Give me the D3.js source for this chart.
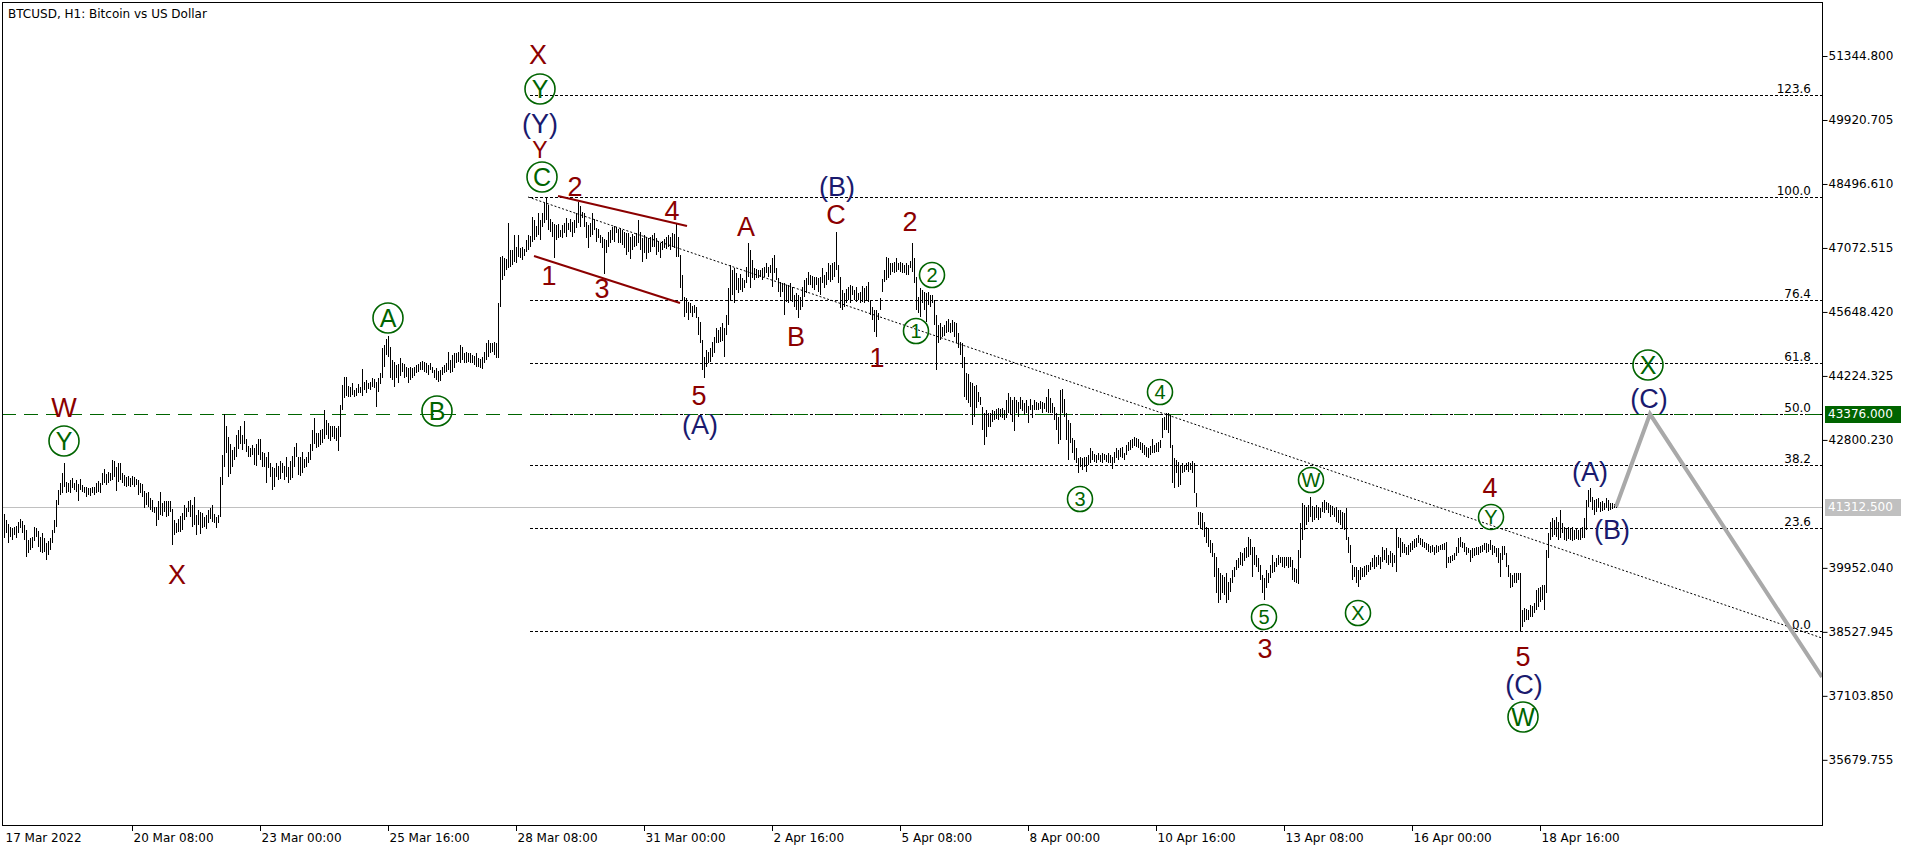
<!DOCTYPE html>
<html><head><meta charset="utf-8">
<script src="https://cdn.jsdelivr.net/npm/d3@7/dist/d3.min.js"></script>
<style>
html,body{margin:0;padding:0;background:#fff;overflow:hidden;}
svg{display:block;}
.ax text{font-family:"DejaVu Sans",sans-serif;font-size:12px;fill:#000;}
.ax line{stroke:#000;}
</style></head><body>
<svg id="chart" width="1916" height="852"></svg>
<script>
// ---------------- DATA ----------------
const title = "BTCUSD, H1:  Bitcoin vs US Dollar";
const startTime = new Date(2022, 2, 17, 16, 0); // first hourly bar
const highs = [
41140,41020,40930,40870,40850,40870,40880,40980,41030,41000,
40910,40800,40570,40610,40650,40870,40830,40780,40650,40720,
40610,40500,40540,40610,40800,41020,41460,41690,41830,42060,
42290,41870,41850,41910,41950,41830,41910,41820,41920,41800,
41760,41760,41720,41720,41760,41760,41830,41890,41830,42070,
42150,42040,42090,42070,42350,42320,42200,42280,42290,42060,
42020,41980,42000,41950,42000,41980,41920,41910,41830,41820,
41670,41610,41650,41500,41460,41310,41310,41430,41650,41400,
41430,41430,41450,41430,41260,41020,40940,41030,41110,41170,
41350,41280,41430,41460,41350,41520,41130,41240,41200,41170,
41090,41130,41240,41280,41350,41150,41090,41130,41980,42460,
43376,43100,42860,42720,42580,42650,42910,43020,43100,42910,
43220,42810,42670,42610,42690,42610,42710,42830,42830,42520,
42500,42430,42520,42290,42200,42170,42280,42220,42320,42280,
42220,42430,42190,42320,42440,42650,42740,42430,42430,42540,
42370,42430,42540,42720,43010,43280,42950,42960,43020,43040,
43470,43240,43170,43100,43110,43100,43060,43100,43580,44020,
44210,44190,44000,43985,44060,43910,43950,44045,43985,44370,
44100,44130,44060,44100,44170,44150,44100,44170,44300,44840,
44910,45040,45110,44875,44580,44540,44470,44500,44620,44520,
44500,44430,44390,44430,44390,44430,44470,44500,
44540,44560,44540,44505,44470,44505,44430,44360,44395,44340,
44360,44430,44470,44505,44765,44580,44690,44730,44740,44765,
44910,44875,44740,44765,44730,44740,44690,44670,44730,44615,
44595,44650,44765,44950,45025,44965,44950,44985,44950,45840,
46865,46895,46840,46820,47620,47025,47025,47360,47100,47360,
47065,47085,47040,47250,47360,47340,47755,47695,47560,47845,
47695,47845,48080,48200,48030,47710,47655,47605,47585,47605,
47470,47585,47635,47730,47635,47710,47655,47695,47855,48100,
48005,47880,47845,47655,47585,47620,47845,47710,47510,47490,
47360,47325,47265,47250,47435,47470,47545,47560,47530,47490,
47510,47470,47435,47410,47395,47325,47385,47340,47395,47695,
47435,47285,47360,47325,47285,47325,47360,47395,47285,47235,
47190,47235,47265,47325,47360,47325,47395,47385,47620,47325,
46915,46470,45990,45950,45875,45840,45780,45800,45765,45545,
45430,45025,44650,44800,44765,44840,44985,45100,45285,45245,
45320,45395,45285,45580,46175,46690,46580,46620,46505,46395,
46490,46395,46360,46655,47175,47025,46805,46620,46595,46580,
46580,46620,46655,46730,46640,46690,46840,46915,46620,46395,
46320,46285,46285,46250,46250,46285,46210,46025,46060,46025,
45990,46210,46360,46395,46545,46470,46450,46430,46430,46395,46430,46620,
46470,46545,46730,46693,46745,46767,47435,46693,46434,46137,
46063,46152,46196,46248,46226,46137,46196,46063,46100,46226,
46174,46226,46322,45914,45766,45692,45692,45617,45951,46374,
46582,46879,46842,46730,46730,46767,46842,46730,46767,46745,
46693,46730,46693,46790,47176,46842,46434,45988,46174,46137,
46100,46063,46100,46026,46026,45914,45580,45358,45395,45321,
45358,45454,45484,45410,45469,45432,45410,45172,44987,44950,
44653,44282,44267,44097,44060,44000,44023,43874,43763,43541,
43392,43466,43392,43392,43466,43451,43481,43503,43481,43503,
43466,43689,43852,43763,43689,43763,43689,43652,43748,43689,
43615,43689,43555,43704,43578,43689,43652,43630,43674,43652,
43615,43748,43926,43726,43615,43541,43392,43318,43911,43926,
43704,43392,43243,43169,42835,42798,42613,42390,42427,42390,
42427,42427,42464,42613,42561,42487,42464,42501,42464,42501,
42487,42464,42501,42464,42427,42538,42613,42576,42613,42650,
42501,42687,42761,42798,42813,42858,42835,42813,42761,42724,
42687,42650,42613,42665,42813,42687,42739,42761,42798,43281,
43318,43392,43392,43355,42687,42390,42353,42316,42242,42279,
42242,42294,42316,42279,42338,42279,41611,41203,41203,41166,
40980,40869,40832,40572,40498,40276,40201,39942,39831,39794,
39757,39831,39646,39720,39905,39979,40127,40164,
40313,40276,40387,40424,40646,40587,40424,40409,40238,40164,
40016,39793,39719,39905,39846,40016,40238,40090,40164,40238,
40201,40186,40201,40186,40186,40201,40127,39942,39920,40350,
40944,41388,41351,41314,41351,41522,41329,41314,41351,41314,
41277,41425,41463,41425,41403,41351,41329,41277,41314,41240,
41240,41203,41166,41277,40646,40461,40016,39979,39979,39905,
39979,39942,39994,40016,40016,40090,40164,40238,40201,40238,
40186,40409,40350,40387,40238,40335,40276,40238,40810,40646,
40609,40535,40483,40424,40461,40498,40557,40587,40609,40683,
40609,40587,40535,40513,40483,40439,40461,40424,40461,40439,
40461,40483,40498,40535,40201,40216,40238,40276,40409,40609,
40646,40535,40498,40424,40387,40350,40387,40387,40424,40409,
40439,40461,40498,40498,40483,40572,40461,40439,40387,40387,
40276,40439,40439,40276,40016,39831,39793,39831,39846,39831,
39846,39014,39051,39029,39014,39125,39103,39162,39459,39496,
39534,39571,39571,40350,40721,40980,41054,41017,41092,40980,
41240,40944,40855,40810,40869,40832,40855,40795,40832,40795,
40832,40869,41054,41463,41686,41722,41522,41463,41478,41500,
41425,41448,41388,41500,41463,41388,41403,41374,41374
];
const lows = [
40610,40720,40510,40650,40570,40680,40610,40720,40830,40720,
40570,40200,40280,40350,40390,40540,40650,40420,40310,40280,
40310,40130,40240,40350,40500,40720,40870,41350,41570,41610,
41760,41610,41650,41610,41720,41690,41650,41450,41690,41650,
41610,41520,41570,41550,41610,41570,41610,41650,41610,41800,
41830,41800,41830,41890,41910,41980,41670,41870,41910,41830,
41770,41760,41770,41760,41800,41760,41800,41570,41610,41540,
41280,41350,41310,41250,41200,41170,40880,41020,41130,41110,
41200,41090,41110,41200,40450,40680,40720,40760,40760,40800,
41020,41090,41200,41090,40870,40910,40680,40910,40710,40830,
40870,40810,40940,41030,40980,40940,40830,40960,41090,41800,
42200,42500,41970,42040,42200,42350,42410,42590,42720,42580,
42710,42540,42430,42430,42470,42240,42220,42470,42350,42200,
42200,41850,42170,41980,41680,41760,41980,41910,41920,42060,
41910,41980,41830,41910,41950,42200,42430,42020,42000,42060,
42170,42200,42280,42350,42560,42720,42610,42650,42690,42740,
42830,42910,42830,42780,42870,42810,42780,42560,42870,43470,
43725,43780,43760,43750,43800,43760,43780,43840,43850,43780,
43910,43840,43930,43900,43985,43950,43540,43875,44045,44170,
44430,44690,44650,44170,44130,43985,44170,44060,44220,44320,
44170,44210,44060,44130,44170,44220,44280,44320,
44355,44360,44320,44280,44245,44360,44280,44170,44135,44095,
44120,44245,44280,44320,44360,44280,44320,44395,44505,44540,
44505,44580,44520,44520,44540,44505,44520,44470,44430,44430,
44395,44370,44505,44580,44650,44730,44765,44690,44615,44615,
45765,46360,46450,46580,46620,46655,46690,46765,46730,46880,
46840,46805,46895,46990,47025,47100,47210,47250,47325,47360,
47250,47545,47620,47695,47470,47435,47325,46840,47250,47285,
47325,47285,47395,47325,47470,47435,47325,47395,47510,47620,
47545,47730,47545,47285,47065,47325,47360,47470,47210,47285,
47175,47065,46490,46955,47100,47175,47250,47210,47395,47175,
47190,47140,47065,46915,46990,46820,47025,47100,47115,47175,
47025,46765,46950,46820,46950,46990,47100,47100,46915,46990,
46840,47025,47065,47040,47100,47025,47100,47065,46880,46880,
46175,45915,45545,45620,45470,45620,45545,45620,45505,45135,
44950,44360,44170,44430,44505,44540,44650,44730,44950,44950,
44985,45010,44650,45135,45360,45915,46025,45855,46135,46060,
46135,46100,46175,46285,46430,46175,46395,46360,46395,46395,
46430,46360,46430,46505,46430,46505,46210,46505,46360,46100,
45990,46100,45580,45875,45840,45915,45875,45765,45690,45505,
45690,45765,45990,46060,46250,46250,46175,46135,46250,46100,46025,46285,
46175,46248,46359,46322,46359,46434,46582,46285,45729,45692,
45766,45840,45914,45840,46025,45914,45877,45914,45840,45877,
45840,45914,45877,45580,45469,45209,45083,45469,45692,46100,
46322,46359,46396,46471,46545,46508,46545,46582,46545,46508,
46508,46471,46471,46619,46545,46285,45692,45617,45543,45840,
45692,45432,45803,45766,45840,45358,44356,44950,45024,45098,
45113,45172,45209,45172,45209,45098,44950,44838,44690,44393,
43763,43689,43615,43541,43133,43318,43503,43652,43578,43021,
42687,42858,43095,43095,43206,43243,43258,43243,43303,43281,
43243,43281,43392,43355,43206,43006,43392,43318,43481,43451,
43355,43392,43184,43466,43281,43466,43466,43466,43481,43392,
43481,43429,43392,43392,43392,43243,43021,42709,42798,43392,
43318,42798,42353,42724,42501,42353,42279,42056,42205,42130,
42205,42093,42242,42279,42353,42316,42279,42353,42316,42294,
42353,42316,42279,42279,42145,42279,42390,42353,42427,42390,
42353,42464,42561,42576,42613,42665,42650,42613,42576,42516,
42464,42427,42390,42464,42501,42501,42538,42538,42613,42835,
43021,43021,42947,42613,41834,41723,42056,41760,41797,42056,
42093,42130,42093,42130,42056,41611,41314,40906,40832,40795,
40647,40498,40424,40276,40201,39757,39386,39163,39238,39386,
39349,39163,39238,39423,39608,39757,39905,39942,
40016,39994,40112,40164,40201,40238,39741,40016,39979,39868,
39682,39385,39237,39497,39608,39719,39831,39868,39979,40016,
40053,39979,39942,39994,39942,39979,39682,39645,39608,39593,
40164,40572,40795,40906,40980,41092,40980,41017,41054,41017,
41054,41203,41166,41240,41181,41092,41129,41092,40980,40944,
40906,40832,40795,40572,40276,40053,39682,39756,39608,39534,
39682,39756,39741,39793,39868,39905,39979,39920,39979,40016,
39920,40090,40127,40068,40016,40053,39979,40068,39868,40387,
40201,40276,40290,40238,40238,40313,40350,40387,40424,40498,
40461,40424,40387,40350,40313,40276,40313,40238,40276,40313,
40350,40350,40350,39942,40053,40068,40112,40127,40216,40290,
40424,40387,40313,40238,40276,40090,40164,40216,40238,40238,
40276,40313,40350,40290,40313,40350,40238,40276,40186,40053,
39756,40127,40238,39979,39756,39497,39534,39608,39608,39682,
38552,38643,38754,38791,38791,38866,38866,38940,39014,39088,
39200,39237,39014,39385,40164,40572,40646,40683,40646,40572,
40609,40721,40572,40557,40587,40572,40557,40572,40587,40572,
40572,40609,40609,40795,41314,41425,41240,41129,41203,41277,
41203,41225,41240,41277,41225,41240,41255,41277,41277
];
const priceTicks = [51344.800, 49920.705, 48496.610, 47072.515, 45648.420, 44224.325,
                    42800.230, 39952.040, 38527.945, 37103.850, 35679.755];
const timeTicks = ["2022-03-17 16:00","2022-03-20 08:00","2022-03-23 00:00","2022-03-25 16:00",
  "2022-03-28 08:00","2022-03-31 00:00","2022-04-02 16:00","2022-04-05 08:00","2022-04-08 00:00",
  "2022-04-10 16:00","2022-04-13 08:00","2022-04-16 00:00","2022-04-18 16:00"];
const fibLevels = [0, 23.6, 38.2, 50, 61.8, 76.4, 100, 123.6];
const fibLow = 38552, fibHigh = 48200, fibStartBar = 263;
const targetLevel = 43376.000;
const lastPrice = 41312.500;
// lines given as [bar number (hours from start), price]
const trendLine = [[262, 48207], [818, 39771]];
const channelUpper = [[277, 48229], [341.5, 47561]];
const channelLower = [[265, 46893], [338, 45847]];
const projection = [[806, 41312.5], [823, 43376], [909, 37523]];
// wave labels: [text, bar, price, kind, font size]  r = dark red, n = navy, cL/cS = circled (large/small)
const waveLabels = [
 ["W",30,43510,"r"],["Y",30,42776,"cL"],["X",86.5,39794,"r"],
 ["A",192,45514,"cL"],["B",216.5,43444,"cL"],
 ["X",267,51367,"r"],["Y",268,50610,"cL"],["(Y)",268,49840,"n"],["Y",268,49253,"r",23],["C",269,48652,"cL"],
 ["2",285.5,48429,"r"],["4",334,47895,"r"],["1",272.5,46448,"r"],["3",299,46159,"r"],
 ["5",347.5,43778,"r"],["(A)",348,43132,"n"],
 ["A",371,47539,"r"],["B",396,45091,"r"],["(B)",416.5,48429,"n"],["C",416,47806,"r"],
 ["1",436.5,44623,"r"],["2",453,47650,"r"],
 ["2",464,46471,"cS"],["1",456,45224,"cS"],["3",538,41485,"cS"],["4",578,43867,"cS"],
 ["5",630,38859,"cS"],["3",630.5,38147,"r"],["W",653.5,41908,"cS"],["X",677,38948,"cS"],
 ["4",743,41730,"r"],["Y",743.5,41085,"cS"],
 ["5",759.5,37969,"r"],["(C)",760,37346,"n"],["W",759.5,36633,"cL"],
 ["(A)",793,42086,"n"],["(B)",804,40795,"n"],["(C)",822.5,43711,"n"],["X",822,44468,"cL"]
];

// ---------------- DRAW ----------------
const svg = d3.select("#chart");
const P = {l: 2, t: 2, r: 1822, b: 825};
const barTime = i => new Date(+startTime + i * 3600e3);
const x = d3.scaleTime().domain([startTime, barTime(909)]).range([4, 1822]);
const y = d3.scaleLinear().domain([34229, 52547]).range([825, 2]);
const X = i => x(barTime(i));

svg.append("defs").append("clipPath").attr("id", "plot")
  .append("rect").attr("x", P.l).attr("y", P.t).attr("width", P.r - P.l).attr("height", P.b - P.t);

const g = svg.append("g").attr("clip-path", "url(#plot)");

// fib retracement
const fibG = g.append("g");
fibLevels.forEach(lv => {
  const p = fibLow + (fibHigh - fibLow) * lv / 100;
  const yy = Math.round(y(p)) + 0.5;
  fibG.append("line").attr("x1", X(fibStartBar)).attr("x2", P.r).attr("y1", yy).attr("y2", yy)
    .attr("stroke", "#000").attr("stroke-width", 1).attr("stroke-dasharray", "3,2");
  fibG.append("text").attr("x", 1811).attr("y", yy - 3).attr("text-anchor", "end")
    .attr("font-family", "DejaVu Sans, sans-serif").attr("font-size", 12).attr("fill", "#000")
    .text(lv.toFixed(1));
});

// horizontal target line (green dashed) and last price line
const yT = Math.round(y(targetLevel)) + 0.5;
g.append("line").attr("x1", P.l).attr("x2", P.r).attr("y1", yT).attr("y2", yT)
  .attr("stroke", "#006400").attr("stroke-width", 1.2).attr("stroke-dasharray", "14,8");
const yL = Math.round(y(lastPrice)) + 0.5;
g.append("line").attr("x1", P.l).attr("x2", P.r).attr("y1", yL).attr("y2", yL)
  .attr("stroke", "#c0c0c0").attr("stroke-width", 1);

// trend line (dotted), extended to the right edge
const [t1, t2] = trendLine;
const slope = (t2[1] - t1[1]) / (t2[0] - t1[0]);
g.append("line").attr("x1", X(t1[0])).attr("y1", y(t1[1]))
  .attr("x2", X(909)).attr("y2", y(t1[1] + slope * (909 - t1[0])))
  .attr("stroke", "#000").attr("stroke-width", 1).attr("stroke-dasharray", "2,2");

// price bars
const bars = highs.map((h, i) => ({i, h, l: lows[i]}));
g.append("g").selectAll("line").data(bars).join("line")
  .attr("x1", d => Math.round(X(d.i)) + 0.5).attr("x2", d => Math.round(X(d.i)) + 0.5)
  .attr("y1", d => Math.round(y(d.h))).attr("y2", d => Math.max(Math.round(y(d.l)), Math.round(y(d.h)) + 1))
  .attr("stroke", "#000").attr("stroke-width", 1).attr("shape-rendering", "crispEdges");

// channel lines
[channelUpper, channelLower].forEach(c => {
  g.append("line").attr("x1", X(c[0][0])).attr("y1", y(c[0][1]))
    .attr("x2", X(c[1][0])).attr("y2", y(c[1][1]))
    .attr("stroke", "#8b0000").attr("stroke-width", 2);
});

// projection path
g.append("path").datum(projection)
  .attr("d", d3.line().x(d => X(d[0])).y(d => y(d[1])))
  .attr("fill", "none").attr("stroke", "#a9a9a9").attr("stroke-width", 4);

// wave labels
const lg = svg.append("g").attr("clip-path", "url(#plot)");
waveLabels.forEach(([t, b, p, k, fs]) => {
  const cx = X(b), cy = y(p);
  if (k === "r" || k === "n") {
    lg.append("text").attr("x", cx).attr("y", cy).attr("dy", "0.35em").attr("text-anchor", "middle")
      .attr("font-family", "Liberation Sans, Arial, sans-serif").attr("font-size", fs || 27)
      .attr("fill", k === "r" ? "#8b0000" : "#1a1a6e").text(t);
  } else {
    const big = k === "cL";
    const r = big ? 15 : 12.5;
    lg.append("circle").attr("cx", cx).attr("cy", cy).attr("r", r)
      .attr("fill", "none").attr("stroke", "#006400").attr("stroke-width", 1.6);
    lg.append("text").attr("x", cx).attr("y", cy).attr("dy", "0.36em").attr("text-anchor", "middle")
      .attr("font-family", "Liberation Sans, Arial, sans-serif").attr("font-size", big ? 25 : 20)
      .attr("fill", "#006400").text(t);
  }
});

// frame
svg.append("rect").attr("x", P.l + 0.5).attr("y", P.t + 0.5).attr("width", P.r - P.l).attr("height", P.b - P.t)
  .attr("fill", "none").attr("stroke", "#000").attr("stroke-width", 1);

// title
svg.append("text").attr("x", 8).attr("y", 18).attr("font-family", "DejaVu Sans, sans-serif")
  .attr("font-size", 12).attr("fill", "#000").text(title);

// x axis
const parseT = d3.timeParse("%Y-%m-%d %H:%M");
const tickDates = timeTicks.map(parseT);
const xAxis = d3.axisBottom(x).tickValues(tickDates).tickSize(5)
  .tickFormat((d, i) => i === 0 ? d3.timeFormat("%-d %b %Y")(d) : d3.timeFormat("%-d %b %H:%M")(d));
const gx = svg.append("g").attr("class", "ax").attr("transform", `translate(0,${P.b + 0.5})`).call(xAxis);
gx.select(".domain").remove();
gx.selectAll(".tick line").attr("shape-rendering", "crispEdges");
gx.selectAll("text").attr("text-anchor", "start").attr("x", 1);
gx.selectAll(".tick").filter((d, i) => i === 0).select("line").remove();

// y axis
const yAxis = d3.axisRight(y).tickValues(priceTicks).tickSize(5).tickFormat(d3.format(".3f"));
const gy = svg.append("g").attr("class", "ax").attr("transform", `translate(${P.r + 0.5},0)`).call(yAxis);
gy.select(".domain").remove();
gy.selectAll("text").attr("x", 6);

// price tags on the axis
[[targetLevel, "#006400"], [lastPrice, "#c0c0c0"]].forEach(([p, col]) => {
  const yy = y(p);
  svg.append("rect").attr("x", P.r + 3).attr("y", Math.round(yy) - 8).attr("width", 76).attr("height", 17).attr("fill", col);
  svg.append("text").attr("x", P.r + 6).attr("y", yy).attr("dy", "0.36em")
    .attr("font-family", "DejaVu Sans, sans-serif").attr("font-size", 12).attr("fill", "#fff")
    .text(d3.format(".3f")(p));
});
</script>
</body></html>
